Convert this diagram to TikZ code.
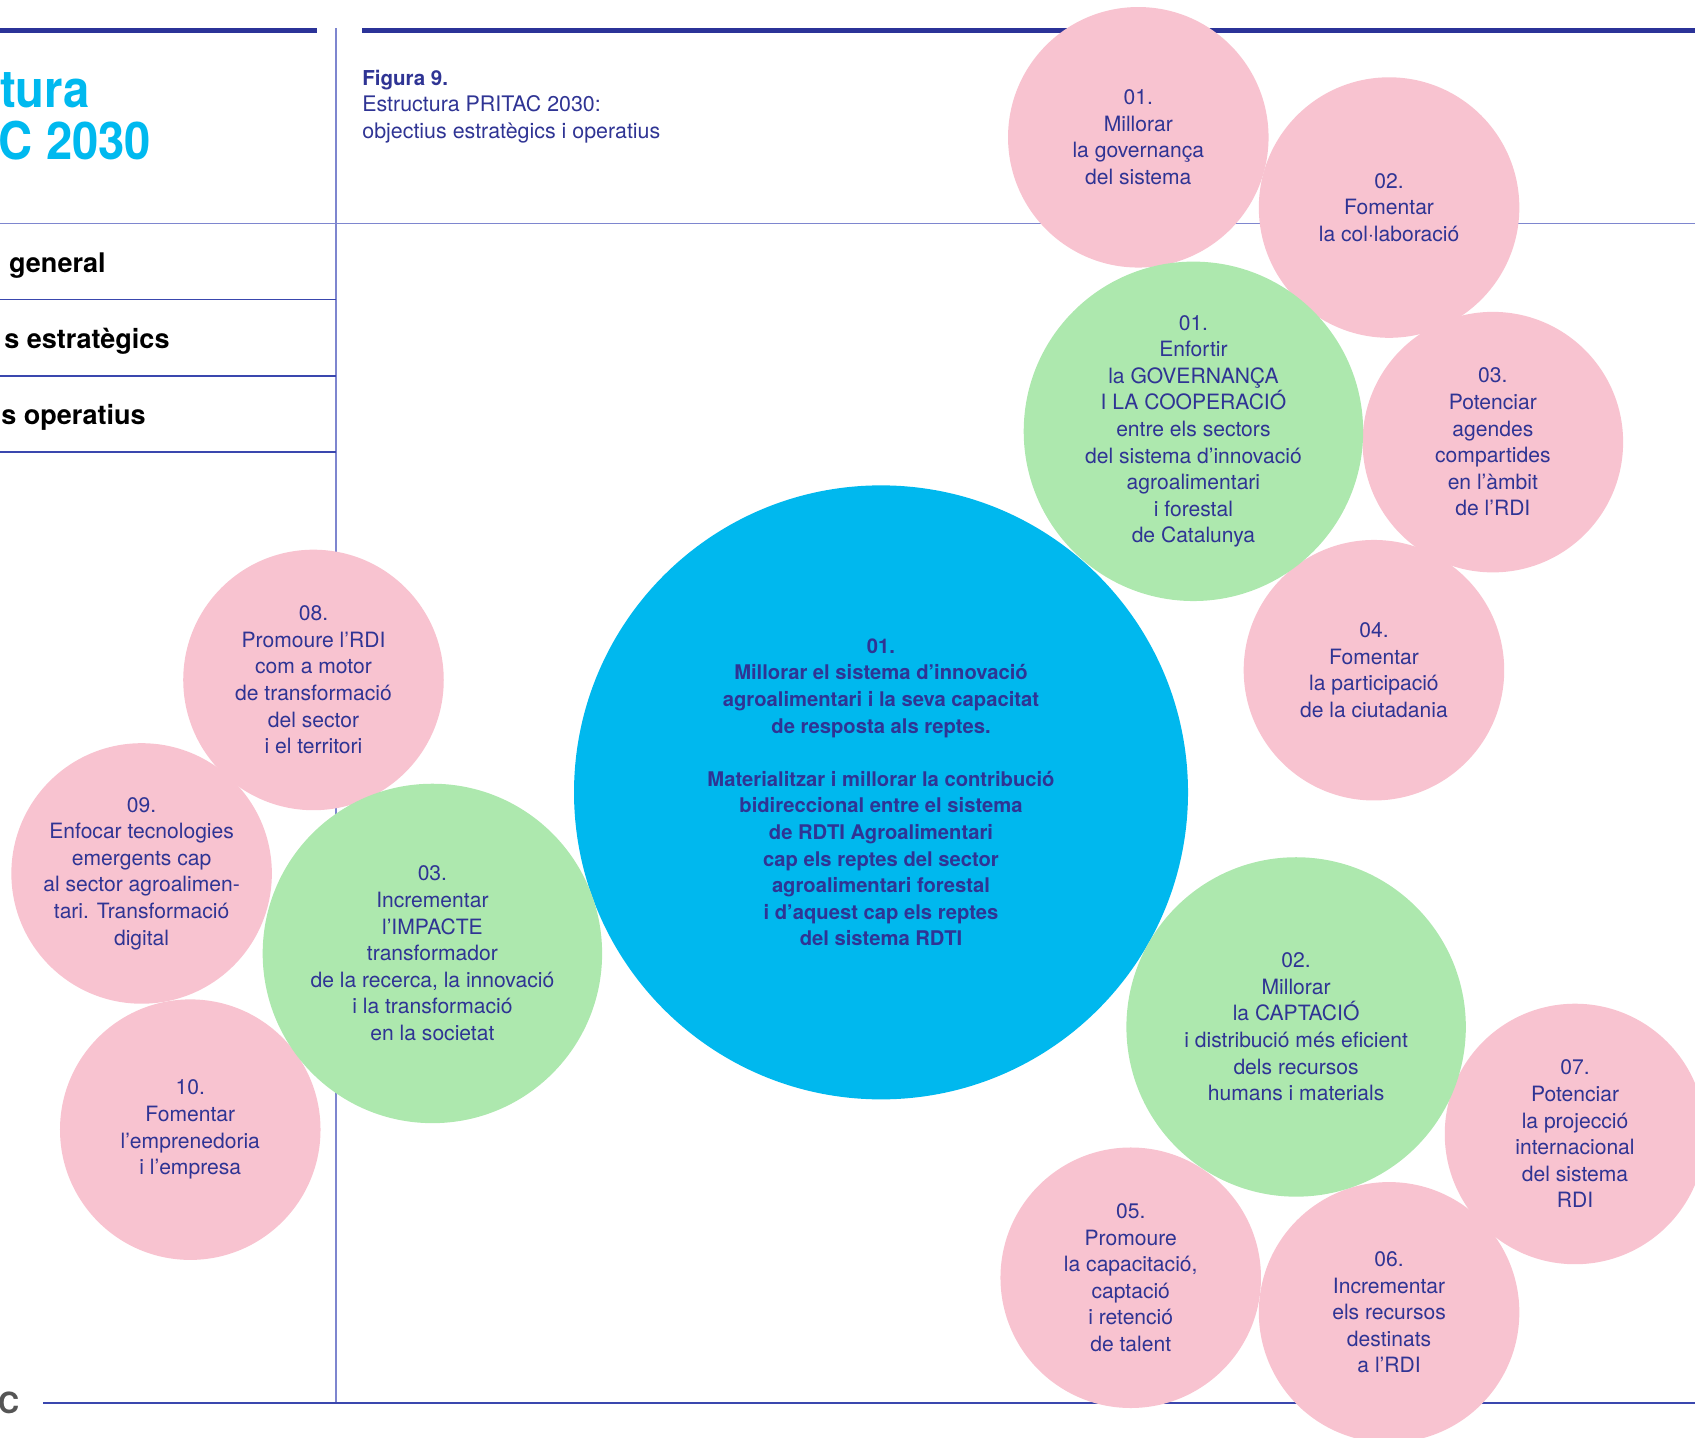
\documentclass[tikz,border=0pt]{standalone}
\usepackage{fontspec}
\setmainfont{TeX Gyre Heros}
\newfontfamily\condfont[FakeStretch=0.91]{TeX Gyre Heros}
\definecolor{pinkfill}{HTML}{F8C3D0}
\definecolor{greenfill}{HTML}{ADE8AE}
\definecolor{bluefill}{HTML}{00B8EE}
\definecolor{inktext}{HTML}{2F3494}
\definecolor{thickrule}{HTML}{2B3398}
\definecolor{lightrule}{HTML}{7E86CF}
\definecolor{darkrule}{HTML}{3A47AE}
\definecolor{titlecyan}{HTML}{00B9EF}
\definecolor{graytext}{HTML}{555555}
\tikzset{
  bubble/.style={circle, inner sep=0pt, align=center, text=inktext,
    font=\fontsize{19.5}{24.6}\selectfont},
  pinkbub/.style={bubble, fill=pinkfill, minimum size=241pt},
  greenbub/.style={bubble, fill=greenfill, minimum size=314pt},
  bluebub/.style={bubble, fill=bluefill, minimum size=568pt,
    font=\fontsize{18.7}{24.6}\selectfont\bfseries},
  thickline/.style={draw=thickrule, line width=4.6pt},
  lightline/.style={draw=lightrule, line width=1.3pt},
  darkline/.style={draw=darkrule, line width=1.3pt},
  sidelabel/.style={anchor=base east, inner sep=0pt,
    font=\fontsize{25}{30}\selectfont\bfseries, text=black},
  titletext/.style={inner sep=0pt,
    font=\condfont\fontsize{48}{50}\selectfont\bfseries, text=titlecyan},
  captext/.style={anchor=base west, inner sep=0pt, text=inktext,
    font=\fontsize{19.8}{24}\selectfont}
}
\begin{document}
\begin{tikzpicture}[x=1pt,y=-1pt]
\useasboundingbox (0,0) rectangle (1568,1330);
% page rules
\draw[thickline] (0,28.5) -- (293,28.5);
\draw[thickline] (335,28.5) -- (1568,28.5);
\draw[lightline] (311,26) -- (311,1298);
\draw[lightline] (0,207) -- (1568,207);
\draw[darkline] (0,277) -- (311,277);
\draw[darkline] (0,348) -- (311,348);
\draw[darkline] (0,418) -- (311,418);
\draw[darkline] (40,1298) -- (1568,1298);
% left column texts
\node[titletext, anchor=base west] (tit1) at (0,99) {tura};
\node[titletext, anchor=base east] (tit2) at (140,148) {C 2030};
\node[sidelabel] (lab1) at (98,252) {general};
\node[sidelabel] (lab2) at (157,322) {s estratègics};
\node[sidelabel] (lab3) at (135,393) {s operatius};
\node[sidelabel, text=graytext, font=\fontsize{27}{30}\selectfont\bfseries] (foot) at (18,1308) {C};
% caption
\node[captext, font=\fontsize{19}{24}\selectfont\bfseries] (cap1) at (335,79) {Figura 9.};
\node[captext] (cap2) at (335,103.5) {Estructura PRITAC 2030:};
\node[captext] (cap3) at (335,128) {objectius estratègics i operatius};
% general objective
\node[bluebub] (gen) at (815,733) {01.\\Millorar el sistema d’innovació\\agroalimentari i la seva capacitat\\de resposta als reptes.\\[24.6pt]Materialitzar i millorar la contribució\\bidireccional entre el sistema\\de RDTI Agroalimentari\\cap els reptes del sector\\agroalimentari forestal\\i d’aquest cap els reptes\\del sistema RDTI};
% operative objectives
\node[pinkbub] (op1) at (1053,127) {01.\\Millorar\\la governança\\del sistema};
\node[pinkbub] (op2) at (1285,192) {02.\\Fomentar\\la col·laboració};
\node[pinkbub] (op3) at (1381,409) {03.\\Potenciar\\agendes\\compartides\\en l’àmbit\\de l’RDI};
\node[pinkbub] (op4) at (1271,620) {04.\\Fomentar\\la participació\\de la ciutadania};
\node[pinkbub] (op7) at (1457,1049) {07.\\Potenciar\\la projecció\\internacional\\del sistema\\RDI};
\node[pinkbub] (op5) at (1046,1182) {05.\\Promoure\\la capacitació,\\captació\\i retenció\\de talent};
\node[pinkbub] (op6) at (1285,1214) {06.\\Incrementar\\els recursos\\destinats\\a l’RDI};
\node[pinkbub] (op8) at (290,629) {08.\\Promoure l’RDI\\com a motor\\de transformació\\del sector\\i el territori};
\node[pinkbub] (op9) at (131,808) {09.\\Enfocar tecnologies\\emergents cap\\al sector agroalimen-\\tari. Transformació\\digital};
\node[pinkbub] (op10) at (176,1045) {10.\\Fomentar\\l’emprenedoria\\i l’empresa};
% strategic objectives
\node[greenbub] (st1) at (1104,399) {01.\\Enfortir\\la GOVERNANÇA\\I LA COOPERACIÓ\\entre els sectors\\del sistema d’innovació\\agroalimentari\\i forestal\\de Catalunya};
\node[greenbub] (st2) at (1199,950) {02.\\Millorar\\la CAPTACIÓ\\i distribució més eficient\\dels recursos\\humans i materials};
\node[greenbub] (st3) at (400,882) {03.\\Incrementar\\l’IMPACTE\\transformador\\de la recerca, la innovació\\i la transformació\\en la societat};
\end{tikzpicture}
\end{document}
